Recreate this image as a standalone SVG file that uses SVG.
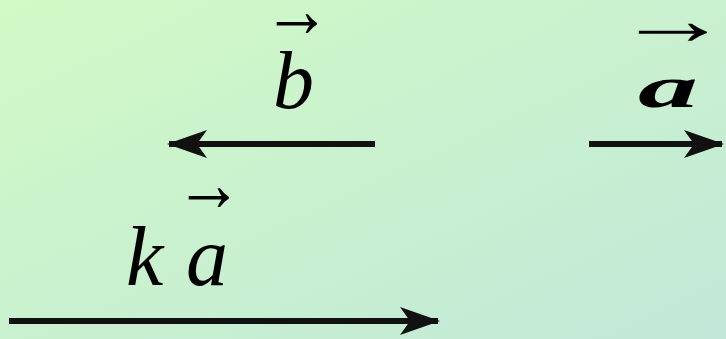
<svg xmlns="http://www.w3.org/2000/svg" width="726" height="339" viewBox="0 0 726 339">
  <defs>
    <linearGradient id="bg" x1="0" y1="0" x2="1" y2="1">
      <stop offset="0" stop-color="#d1fac6"/>
      <stop offset="1" stop-color="#c1e8d8"/>
    </linearGradient>
    <marker id="head" viewBox="0 0 40 28" refX="38" refY="14" markerWidth="40" markerHeight="28" markerUnits="userSpaceOnUse" orient="auto">
      <path d="M0,0 L40,14 L0,28 L10,14 Z" fill="#111"/>
    </marker>
  </defs>
  <style>
    .vec { stroke: #111; stroke-width: 6; fill: none; }
    .lbl { font-family: "Liberation Serif", "Times New Roman", serif; font-style: italic; fill: #000; }
    .ov { font-family: "Liberation Serif", "Times New Roman", serif; fill: #000; }
  </style>
  <rect width="726" height="339" fill="url(#bg)"/>

  <g id="connectors">
    <line class="vec" x1="375" y1="144" x2="169" y2="144" marker-end="url(#head)"/>
    <line class="vec" x1="589" y1="144" x2="722" y2="144" marker-end="url(#head)"/>
    <line class="vec" x1="9" y1="321" x2="438" y2="321" marker-end="url(#head)"/>
  </g>

  <g id="label-b">
    <text class="ov" x="263" y="37" font-size="80" textLength="68" lengthAdjust="spacingAndGlyphs">→</text>
    <text class="lbl" x="273" y="108" font-size="82">b</text>
  </g>

  <g id="label-a">
    <text class="ov" x="615" y="44" font-size="72" textLength="115" lengthAdjust="spacingAndGlyphs">→</text>
    <text class="lbl" x="638" y="107" font-size="60" font-weight="bold" transform="translate(638 0) scale(2 1) translate(-638 0)">a</text>
  </g>

  <g id="label-ka">
    <text class="ov" x="175" y="211" font-size="80" textLength="68" lengthAdjust="spacingAndGlyphs">→</text>
    <text class="lbl" x="126" y="285" font-size="84">k</text>
    <text class="lbl" x="186" y="285" font-size="84">a</text>
  </g>
</svg>
